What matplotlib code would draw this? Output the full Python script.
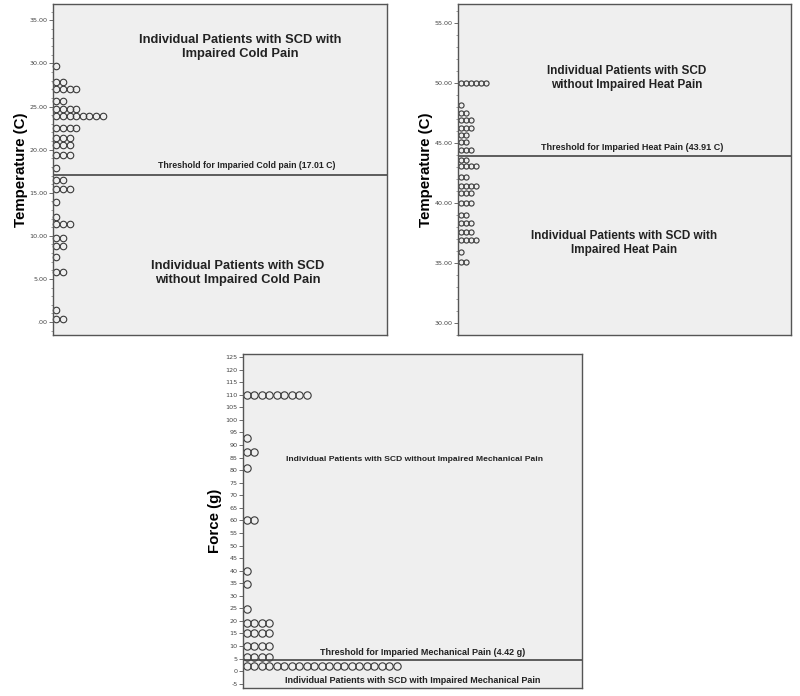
import matplotlib.pyplot as plt
from matplotlib.ticker import MultipleLocator, FuncFormatter

# ---- data: dot rows (value, number of patients) ----
cold_values = [29.7, 27.9, 27.0, 25.6, 24.7, 23.9, 22.5, 21.4, 20.5, 19.4, 17.9,
               16.5, 15.4, 13.9, 12.2, 11.4, 9.7, 8.8, 7.5, 5.8, 1.4, 0.3]
cold_counts = [1, 2, 4, 2, 4, 8, 4, 3, 3, 3, 1,
               2, 3, 1, 1, 3, 2, 2, 1, 2, 1, 2]
cold_threshold = 17.01

heat_values = [50.0, 48.2, 47.5, 46.9, 46.3, 45.7, 45.1, 44.4, 43.6, 43.1, 42.2,
               41.4, 40.8, 40.0, 39.0, 38.3, 37.6, 36.9, 35.9, 35.1]
heat_counts = [6, 1, 2, 3, 3, 2, 2, 3, 2, 4, 2,
               4, 3, 3, 2, 3, 3, 4, 1, 2]
heat_threshold = 43.91

mech_values = [110, 92.6, 87.4, 81, 60, 40, 34.5, 24.8, 19.2, 15.2, 10, 5.5, 2.0]
mech_counts = [9, 1, 2, 1, 2, 1, 1, 1, 4, 4, 4, 4, 21]
mech_threshold = 4.42

BG = "#efefef"
EDGE = "#3a3a3a"
FONT = "Liberation Sans"
TXT = "#222222"


def spss_temp(v, pos):
    s = f"{v:.2f}"
    return s[1:] if s.startswith("0") else s


def dot_panel(ax, values, counts, spacing_px, width_px, msize):
    """Stack one open circle per patient to the right of the y axis."""
    for v, n in zip(values, counts):
        xs = [i + 0.5 for i in range(n)]
        ax.plot(xs, [v] * n, "o", ms=msize, mfc="none", mec=EDGE, mew=0.8,
                clip_on=False)
    ax.set_xlim(0, width_px / spacing_px)
    ax.set_facecolor(BG)
    ax.set_xticks([])
    for sp in ax.spines.values():
        sp.set_color("#555555")
        sp.set_linewidth(1.0)
    ax.tick_params(axis="y", labelsize=4.6, labelcolor="#444444", color="#555555",
                   length=3, width=0.6, pad=1)
    ax.tick_params(axis="y", which="minor", length=1.8, width=0.5, color="#777777")


def label(ax, x, y, s, size, va="center"):
    ax.text(x, y, s, transform=ax.get_yaxis_transform(), ha="center", va=va,
            fontsize=size, fontweight="bold", family=FONT, color=TXT)


fig = plt.figure(figsize=(8, 6.96), dpi=100)
fig.patch.set_facecolor("white")

# top-left: cold pain
ax1 = fig.add_axes([53 / 800, 1 - 335 / 696, 334 / 800, 331 / 696])
dot_panel(ax1, cold_values, cold_counts, 6.6, 334, 4.7)
ax1.set_ylim(-1.5, 36.9)
ax1.yaxis.set_major_locator(MultipleLocator(5))
ax1.yaxis.set_minor_locator(MultipleLocator(1))
ax1.yaxis.set_major_formatter(FuncFormatter(spss_temp))
ax1.axhline(cold_threshold, color="#444444", lw=1.2)
ax1.set_ylabel("Temperature (C)", fontsize=10.8, fontweight="bold", family=FONT,
               labelpad=1)
label(ax1, 0.56, 31.9, "Individual Patients with SCD with\nImpaired Cold Pain", 9.3)
label(ax1, 0.58, cold_threshold + 0.6, "Threshold for Imparied Cold pain (17.01 C)",
      6.35, va="bottom")
label(ax1, 0.554, 5.7, "Individual Patients with SCD\nwithout Impaired Cold Pain", 9.3)

# top-right: heat pain
ax2 = fig.add_axes([458 / 800, 1 - 335 / 696, 333 / 800, 331 / 696])
dot_panel(ax2, heat_values, heat_counts, 5.0, 333, 3.7)
ax2.set_ylim(29.0, 56.6)
ax2.yaxis.set_major_locator(MultipleLocator(5))
ax2.yaxis.set_minor_locator(MultipleLocator(1))
ax2.yaxis.set_major_formatter(FuncFormatter(spss_temp))
ax2.axhline(heat_threshold, color="#444444", lw=1.2)
ax2.set_ylabel("Temperature (C)", fontsize=10.8, fontweight="bold", family=FONT,
               labelpad=1)
label(ax2, 0.507, 50.4, "Individual Patients with SCD\nwithout Impaired Heat Pain", 8.5)
label(ax2, 0.523, heat_threshold + 0.35, "Threshold for Imparied Heat Pain (43.91 C)",
      6.45, va="bottom")
label(ax2, 0.5, 36.7, "Individual Patients with SCD with\nImpaired Heat Pain", 8.5)

# bottom: mechanical pain
ax3 = fig.add_axes([243 / 800, 1 - 688 / 696, 339 / 800, 334 / 696])
dot_panel(ax3, mech_values, mech_counts, 7.5, 339, 5.3)
ax3.set_ylim(-6.7, 126.2)
ax3.yaxis.set_major_locator(MultipleLocator(5))
ax3.yaxis.set_major_formatter(FuncFormatter(lambda v, p: f"{v:.0f}"))
ax3.axhline(mech_threshold, color="#444444", lw=1.2)
ax3.set_ylabel("Force (g)", fontsize=10.8, fontweight="bold", family=FONT,
               labelpad=2)
label(ax3, 0.507, 84.2, "Individual Patients with SCD without Impaired Mechanical Pain", 6.1)
label(ax3, 0.53, mech_threshold + 1.2, "Threshold for Imparied Mechanical Pain (4.42 g)",
      6.45, va="bottom")
label(ax3, 0.5, -3.8, "Individual Patients with SCD with Impaired Mechanical Pain", 6.5)

fig.savefig("out.png", dpi=100)
